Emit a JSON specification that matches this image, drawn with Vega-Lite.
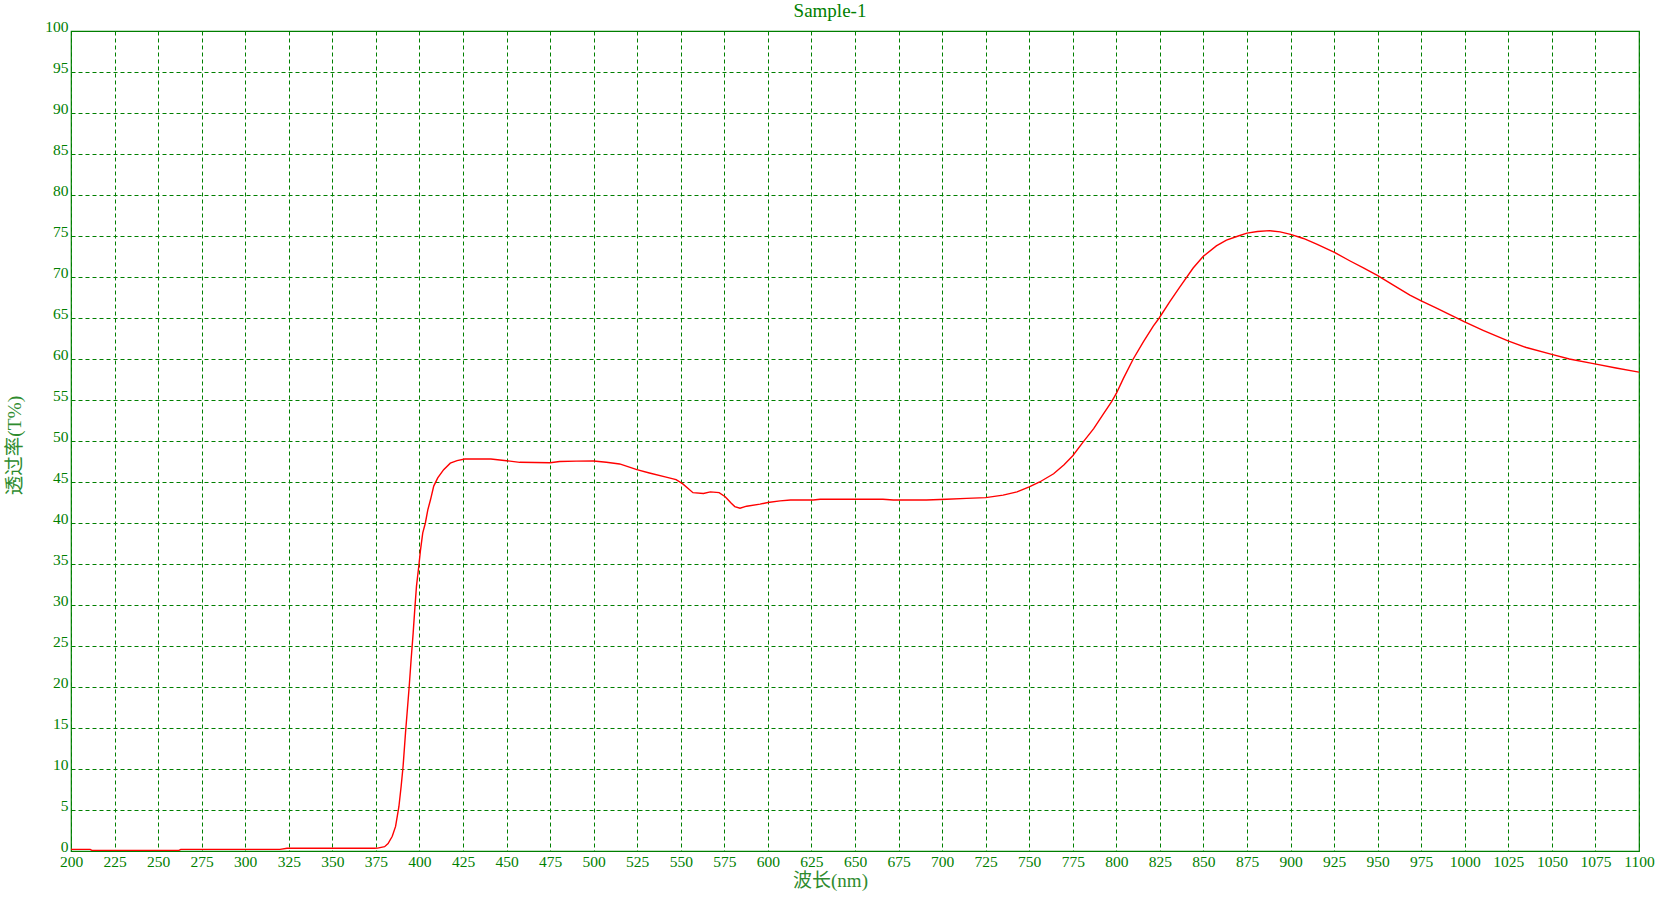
{
  "$schema": "https://vega.github.io/schema/vega-lite/v6.json",
  "autosize": "none",
  "width": 1568,
  "height": 820,
  "padding": {"left": 71, "top": 31, "right": 23, "bottom": 50},
  "background": "white",
  "view": {"stroke": "#007f00", "strokeWidth": 1.2},
  "title": {
    "text": "Sample-1",
    "font": "Liberation Serif",
    "fontSize": 19,
    "fontWeight": "normal",
    "color": "#008000",
    "anchor": "middle",
    "dx": -25,
    "dy": 18,
    "baseline": "alphabetic",
    "offset": 1
  },
  "data": {
    "values": [
      {"nm": 200, "T": 0.2}, {"nm": 211, "T": 0.2}, {"nm": 212, "T": 0.08}, {"nm": 230, "T": 0.08},
      {"nm": 250, "T": 0.08}, {"nm": 262, "T": 0.08}, {"nm": 263, "T": 0.2}, {"nm": 290, "T": 0.2},
      {"nm": 320, "T": 0.2}, {"nm": 324, "T": 0.33}, {"nm": 350, "T": 0.33}, {"nm": 374, "T": 0.33},
      {"nm": 376, "T": 0.35}, {"nm": 380, "T": 0.53}, {"nm": 382, "T": 0.9}, {"nm": 384.4, "T": 1.8},
      {"nm": 386.3, "T": 3.0}, {"nm": 388.2, "T": 5.4}, {"nm": 389.5, "T": 7.9}, {"nm": 390.6, "T": 10.3},
      {"nm": 392, "T": 14.4}, {"nm": 392.9, "T": 16.8}, {"nm": 394.1, "T": 20.0}, {"nm": 395.2, "T": 23.3},
      {"nm": 396.4, "T": 26.6}, {"nm": 397.3, "T": 29.4}, {"nm": 398.3, "T": 32.3}, {"nm": 399.6, "T": 34.7},
      {"nm": 400.6, "T": 36.7}, {"nm": 401.9, "T": 38.8}, {"nm": 403.4, "T": 40.0}, {"nm": 404.8, "T": 41.6},
      {"nm": 406.3, "T": 42.8}, {"nm": 408.2, "T": 44.5}, {"nm": 410.5, "T": 45.5}, {"nm": 413.9, "T": 46.5},
      {"nm": 417.7, "T": 47.3}, {"nm": 421.6, "T": 47.6}, {"nm": 426, "T": 47.8}, {"nm": 435, "T": 47.8},
      {"nm": 441, "T": 47.8}, {"nm": 450, "T": 47.6}, {"nm": 457.6, "T": 47.4}, {"nm": 475, "T": 47.35},
      {"nm": 480.5, "T": 47.5}, {"nm": 490, "T": 47.55}, {"nm": 500, "T": 47.56}, {"nm": 507.3, "T": 47.4},
      {"nm": 514.9, "T": 47.2}, {"nm": 524.8, "T": 46.5}, {"nm": 532, "T": 46.1}, {"nm": 541.6, "T": 45.6},
      {"nm": 547.3, "T": 45.3}, {"nm": 551, "T": 44.8}, {"nm": 557, "T": 43.7}, {"nm": 563, "T": 43.6},
      {"nm": 567, "T": 43.8}, {"nm": 572, "T": 43.7}, {"nm": 575.5, "T": 43.2}, {"nm": 579, "T": 42.4},
      {"nm": 581, "T": 42.0}, {"nm": 584, "T": 41.8}, {"nm": 587.8, "T": 42.05}, {"nm": 595.5, "T": 42.3},
      {"nm": 600, "T": 42.5}, {"nm": 607, "T": 42.7}, {"nm": 613, "T": 42.8}, {"nm": 626, "T": 42.8},
      {"nm": 630, "T": 42.9}, {"nm": 650, "T": 42.9}, {"nm": 666, "T": 42.9}, {"nm": 672, "T": 42.8},
      {"nm": 683.5, "T": 42.8}, {"nm": 691, "T": 42.8}, {"nm": 702.6, "T": 42.9}, {"nm": 714, "T": 43.0},
      {"nm": 725, "T": 43.1}, {"nm": 735, "T": 43.4}, {"nm": 743, "T": 43.8}, {"nm": 750, "T": 44.4},
      {"nm": 756, "T": 45.0}, {"nm": 764, "T": 46.0}, {"nm": 770, "T": 47.1}, {"nm": 775, "T": 48.2},
      {"nm": 781, "T": 49.9}, {"nm": 787, "T": 51.5}, {"nm": 792.6, "T": 53.3}, {"nm": 797.3, "T": 54.8},
      {"nm": 800, "T": 55.8}, {"nm": 804, "T": 57.6}, {"nm": 809.7, "T": 60.0}, {"nm": 815.5, "T": 62.1},
      {"nm": 821.2, "T": 64.0}, {"nm": 824.6, "T": 65.0}, {"nm": 830.7, "T": 67.0}, {"nm": 836.5, "T": 68.8},
      {"nm": 844.1, "T": 71.1}, {"nm": 849.8, "T": 72.5}, {"nm": 857.4, "T": 73.8}, {"nm": 863.2, "T": 74.5},
      {"nm": 870, "T": 75.0}, {"nm": 875, "T": 75.35}, {"nm": 881, "T": 75.55}, {"nm": 888, "T": 75.65},
      {"nm": 894, "T": 75.5}, {"nm": 900, "T": 75.2}, {"nm": 907.4, "T": 74.7}, {"nm": 915, "T": 74.0},
      {"nm": 925.2, "T": 73.0}, {"nm": 934.2, "T": 71.95}, {"nm": 941.8, "T": 71.1}, {"nm": 949.8, "T": 70.2},
      {"nm": 959, "T": 69.0}, {"nm": 968.5, "T": 67.8}, {"nm": 975, "T": 67.1}, {"nm": 983.8, "T": 66.2},
      {"nm": 991.4, "T": 65.4}, {"nm": 999.6, "T": 64.55}, {"nm": 1010.5, "T": 63.5}, {"nm": 1024.8, "T": 62.2},
      {"nm": 1035.3, "T": 61.4}, {"nm": 1049.4, "T": 60.6}, {"nm": 1060, "T": 60.0}, {"nm": 1074.6, "T": 59.4},
      {"nm": 1086.8, "T": 58.9}, {"nm": 1100, "T": 58.4}
    ]
  },
  "mark": {"type": "line", "color": "#ff0000", "strokeWidth": 1.4, "clip": true},
  "encoding": {
    "x": {
      "field": "nm",
      "type": "quantitative",
      "scale": {"domain": [200, 1100], "nice": false, "zero": false},
      "axis": {
        "values": [200,225,250,275,300,325,350,375,400,425,450,475,500,525,550,575,600,625,650,675,700,725,750,775,800,825,850,875,900,925,950,975,1000,1025,1050,1075,1100],
        "format": "d",
        "title": "波长(nm)",
        "titleFont": "Liberation Serif, Noto Sans CJK SC",
        "titleFontSize": 19,
        "titleFontWeight": "normal",
        "titleColor": "#2e8b2e",
        "titleX": 759,
        "titleY": 20,
        "titleAlign": "center",
        "titleBaseline": "top",
        "labelFont": "Liberation Serif",
        "labelFontSize": 15.5,
        "labelColor": "#008000",
        "labelPadding": 3,
        "labelFlush": false,
        "labelOverlap": false,
        "labelBound": false,
        "ticks": false,
        "domain": false,
        "grid": true,
        "gridColor": "#007f00",
        "gridDash": [4, 3],
        "gridWidth": 1,
        "gridOpacity": 1
      }
    },
    "y": {
      "field": "T",
      "type": "quantitative",
      "scale": {"domain": [0, 100], "nice": false},
      "axis": {
        "values": [0,5,10,15,20,25,30,35,40,45,50,55,60,65,70,75,80,85,90,95,100],
        "format": "d",
        "title": "透过率(T%)",
        "titleFont": "Liberation Serif, Noto Sans CJK SC",
        "titleFontSize": 19.5,
        "titleFontWeight": "normal",
        "titleColor": "#2e8b2e",
        "titleAngle": -90,
        "titleX": -57,
        "titleY": 414,
        "titleAlign": "center",
        "titleBaseline": "middle",
        "labelFont": "Liberation Serif",
        "labelFontSize": 15.5,
        "labelColor": "#008000",
        "labelPadding": 3,
        "labelBaseline": "alphabetic",
        "labelFlush": false,
        "labelOverlap": false,
        "labelBound": false,
        "ticks": false,
        "domain": false,
        "grid": true,
        "gridColor": "#007f00",
        "gridDash": [4, 3],
        "gridWidth": 1,
        "gridOpacity": 1
      }
    }
  }
}
